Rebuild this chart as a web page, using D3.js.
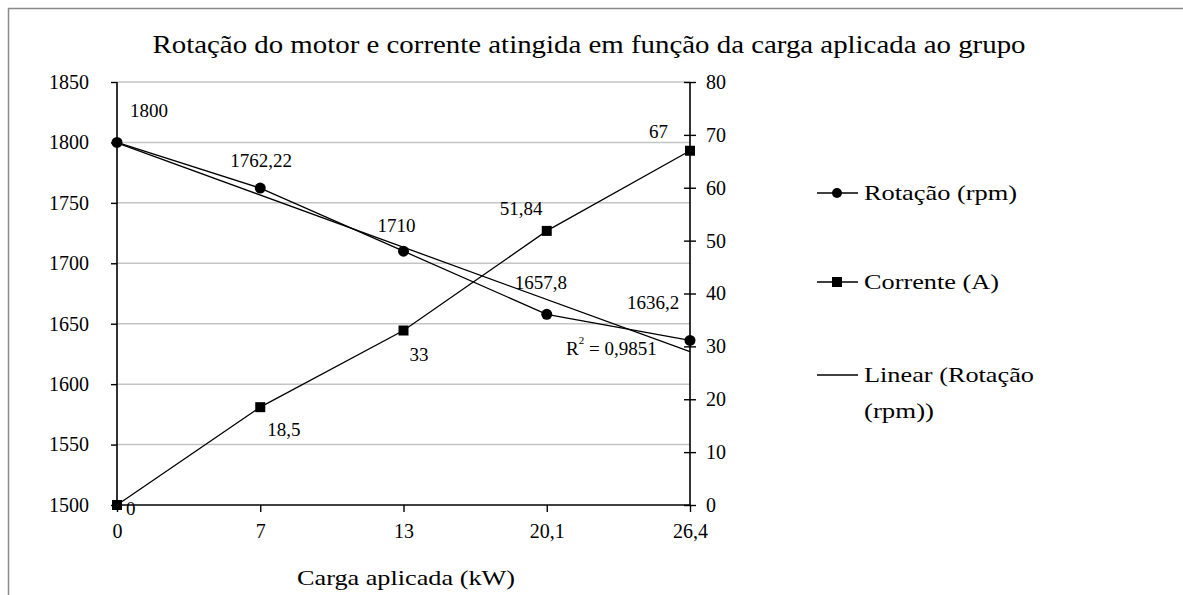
<!DOCTYPE html>
<html>
<head>
<meta charset="utf-8" />
<title>Rotação do motor e corrente</title>
<script src="https://cdn.jsdelivr.net/npm/d3@7"></script>
<style>
  body { margin: 0; background: #fff; }
  svg text { font-family: "Liberation Serif", "Times New Roman", serif; fill: #000; }
</style>
</head>
<body>
<div id="chart"></div>
<script>
// data
const categories = ["0", "7", "13", "20,1", "26,4"];
const rotacao = [1800, 1762.22, 1710, 1657.8, 1636.2];
const corrente = [0, 18.5, 33, 51.84, 67];
const rotacaoLabels = ["1800", "1762,22", "1710", "1657,8", "1636,2"];
const correnteLabels = ["0", "18,5", "33", "51,84", "67"];
const leftTicks = [1500, 1550, 1600, 1650, 1700, 1750, 1800, 1850];
const rightTicks = [0, 10, 20, 30, 40, 50, 60, 70, 80];
const r2Text = "0,9851";

const W = 1183, H = 595;
const svg = d3.select("#chart").append("svg")
  .attr("width", W).attr("height", H);

// outer frame (cut off on right/bottom)
svg.append("path")
  .attr("d", `M8.5,${H} V8.5 H${W}`)
  .attr("fill", "none").attr("stroke", "#8a8a8a").attr("stroke-width", 1.5);

const plot = { left: 117, right: 690, top: 82, bottom: 505 };

const x = d3.scalePoint().domain(categories).range([plot.left, plot.right]);
const yL = d3.scaleLinear().domain([1500, 1850]).range([plot.bottom, plot.top]);
const yR = d3.scaleLinear().domain([0, 80]).range([plot.bottom, plot.top]);

// gridlines
svg.append("g").selectAll("line")
  .data(leftTicks.filter(d => d > 1500))
  .join("line")
  .attr("x1", plot.left).attr("x2", plot.right)
  .attr("y1", d => yL(d)).attr("y2", d => yL(d))
  .attr("stroke", "#c4c4c4").attr("stroke-width", 1.5);

// axes
const fs = 20;
const gL = svg.append("g").attr("transform", `translate(${plot.left},0)`)
  .call(d3.axisLeft(yL).tickValues(leftTicks).tickSize(6).tickPadding(24).tickFormat(d3.format("d")));
const gR = svg.append("g").attr("transform", `translate(${plot.right},0)`)
  .call(d3.axisRight(yR).tickValues(rightTicks).tickSize(6).tickPadding(10).tickFormat(d3.format("d")));
gR.selectAll(".tick line").attr("x1", -6);
const gB = svg.append("g").attr("transform", `translate(0,${plot.bottom})`)
  .call(d3.axisBottom(x).tickSize(7).tickPadding(12));

[gL, gR, gB].forEach(g => {
  g.select(".domain").attr("stroke", "#000").attr("stroke-width", 1.6);
  g.selectAll(".tick line").attr("stroke", "#000").attr("stroke-width", 1.4);
  g.selectAll(".tick text").style("font-family", "Liberation Serif, serif")
    .style("font-size", fs + "px").attr("fill", "#000");
});
gL.select(".domain").attr("d", `M0,${plot.bottom}V${plot.top}`);
gR.select(".domain").attr("d", `M0,${plot.bottom}V${plot.top}`);
gB.select(".domain").attr("d", `M${plot.left},0H${plot.right}`);
gL.selectAll(".tick text").attr("text-anchor", "end").attr("x", -28);

// linear trendline for rotacao
const n = rotacao.length;
const xi = d3.range(1, n + 1);
const mx = d3.mean(xi), my = d3.mean(rotacao);
const slope = d3.sum(xi.map((v, i) => (v - mx) * (rotacao[i] - my))) / d3.sum(xi.map(v => (v - mx) ** 2));
const inter = my - slope * mx;
svg.append("line")
  .attr("x1", x(categories[0])).attr("y1", yL(inter + slope * 1))
  .attr("x2", x(categories[n - 1])).attr("y2", yL(inter + slope * n))
  .attr("stroke", "#000").attr("stroke-width", 1.3);

// series lines
const lineL = d3.line().x((d, i) => x(categories[i])).y(d => yL(d));
const lineR = d3.line().x((d, i) => x(categories[i])).y(d => yR(d));
svg.append("path").attr("d", lineL(rotacao)).attr("fill", "none").attr("stroke", "#000").attr("stroke-width", 1.3);
svg.append("path").attr("d", lineR(corrente)).attr("fill", "none").attr("stroke", "#000").attr("stroke-width", 1.3);

// markers
svg.append("g").selectAll("circle").data(rotacao).join("circle")
  .attr("cx", (d, i) => x(categories[i])).attr("cy", d => yL(d)).attr("r", 5.5).attr("fill", "#000");
svg.append("g").selectAll("rect").data(corrente).join("rect")
  .attr("x", (d, i) => x(categories[i]) - 5).attr("y", d => yR(d) - 5)
  .attr("width", 10).attr("height", 10).attr("fill", "#000");

// data labels
const dfs = 19;
const rotOff = [[13, -25, "start"], [-30, -21, "start"], [-26, -19, "start"], [-32, -25, "start"], [-63, -31, "start"]];
svg.append("g").selectAll("text").data(rotacao).join("text")
  .attr("x", (d, i) => x(categories[i]) + rotOff[i][0])
  .attr("y", (d, i) => yL(d) + rotOff[i][1])
  .attr("text-anchor", (d, i) => rotOff[i][2])
  .style("font-size", dfs + "px")
  .text((d, i) => rotacaoLabels[i]);
const corOff = [[9, 10], [7, 29], [6, 30], [-47, -16], [-41, -13]];
svg.append("g").selectAll("text").data(corrente).join("text")
  .attr("x", (d, i) => x(categories[i]) + corOff[i][0])
  .attr("y", (d, i) => yR(d) + corOff[i][1])
  .style("font-size", dfs + "px")
  .text((d, i) => correnteLabels[i]);

// R² label
const r2 = svg.append("text").attr("x", 566).attr("y", 355).style("font-size", dfs + "px");
r2.append("tspan").text("R");
r2.append("tspan").attr("dy", -11).style("font-size", "11px").text("2");
r2.append("tspan").attr("dy", 11).text(" = " + r2Text);

// title
svg.append("text").attr("x", 589).attr("y", 53).attr("text-anchor", "middle")
  .style("font-size", "25px").attr("textLength", 873).attr("lengthAdjust", "spacingAndGlyphs")
  .text("Rotação do motor e corrente atingida em função da carga aplicada ao grupo");

// x axis title
svg.append("text").attr("x", 406).attr("y", 585).attr("text-anchor", "middle")
  .style("font-size", "22px").attr("textLength", 218).attr("lengthAdjust", "spacingAndGlyphs")
  .text("Carga aplicada (kW)");

// legend
const legend = [
  { label: ["Rotação (rpm)"], y: 193, marker: "circle", w: [153] },
  { label: ["Corrente (A)"], y: 282, marker: "square", w: [135] },
  { label: ["Linear (Rotação", "(rpm))"], y: 375, marker: null, w: [170, 70] }
];
const lg = svg.append("g");
legend.forEach(l => {
  lg.append("line").attr("x1", 817).attr("x2", 858).attr("y1", l.y).attr("y2", l.y)
    .attr("stroke", "#000").attr("stroke-width", 1.3);
  if (l.marker === "circle") lg.append("circle").attr("cx", 837).attr("cy", l.y).attr("r", 5).attr("fill", "#000");
  if (l.marker === "square") lg.append("rect").attr("x", 832).attr("y", l.y - 5).attr("width", 10).attr("height", 10).attr("fill", "#000");
  l.label.forEach((t, k) => {
    lg.append("text").attr("x", 864).attr("y", l.y + 7 + k * 36)
      .style("font-size", "21px").attr("textLength", l.w[k]).attr("lengthAdjust", "spacingAndGlyphs")
      .text(t);
  });
});
</script>
</body>
</html>
